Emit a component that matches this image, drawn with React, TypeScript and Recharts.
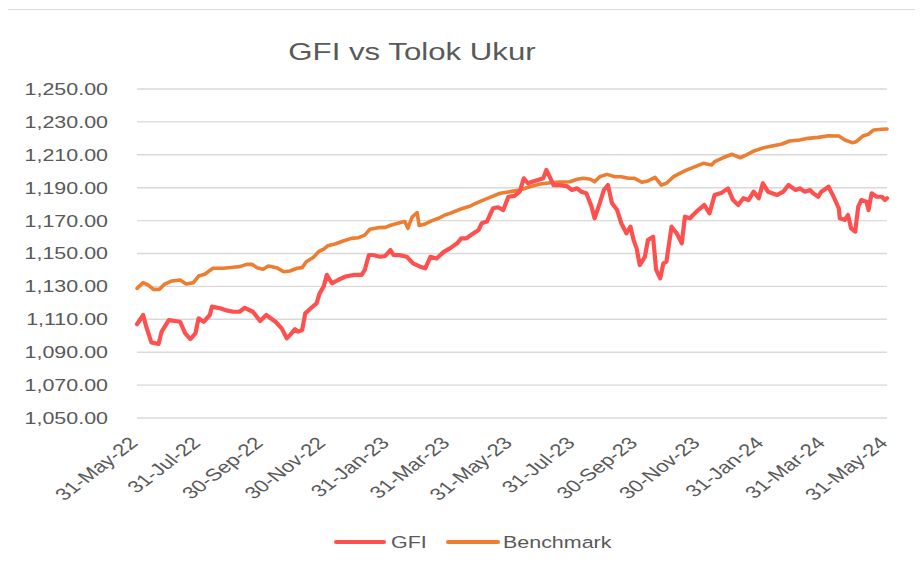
import React from "react";
import { LineChart, Line, XAxis, YAxis, CartesianGrid, Legend } from "recharts";

// Days since 31-May-22
const tickDays = [0, 61, 122, 183, 245, 304, 365, 426, 487, 548, 610, 670, 731];
const tickLabels = [
  "31-May-22", "31-Jul-22", "30-Sep-22", "30-Nov-22", "31-Jan-23", "31-Mar-23",
  "31-May-23", "31-Jul-23", "30-Sep-23", "30-Nov-23", "31-Jan-24", "31-Mar-24", "31-May-24",
];
const yTicks = [1050, 1070, 1090, 1110, 1130, 1150, 1170, 1190, 1210, 1230, 1250];

const gfiDays = [
  0, 6, 9, 14, 21, 24, 31, 42, 47, 52, 57, 60, 65, 71, 73, 81, 86, 94, 100, 105,
  113, 120, 126, 135, 141, 146, 149, 154, 157, 161, 164, 170, 175, 178, 182, 185, 190, 196, 203, 212,
  219, 222, 226, 230, 237, 242, 247, 250, 256, 263, 269, 276, 281, 286, 292, 299, 305, 312, 316, 321,
  328, 333, 336, 341, 344, 347, 352, 357, 362, 368, 373, 377, 381, 386, 393, 396, 399, 403, 406, 412,
  419, 424, 429, 433, 438, 443, 446, 451, 455, 459, 463, 468, 472, 477, 481, 484, 487, 490, 495, 498,
  503, 506, 510, 513, 516, 521, 526, 531, 534, 539, 542, 547, 553, 558, 563, 570, 576, 581, 586, 591,
  596, 601, 606, 610, 615, 624, 630, 635, 642, 646, 651, 656, 659, 664, 667, 674, 679, 684, 685, 690,
  693, 696, 700, 703, 706, 711, 713, 716, 721, 726, 729, 731,
];
const gfiValues = [
  1107, 1112.6, 1105.5, 1096, 1095, 1102.5, 1109.5, 1108.5, 1101.5, 1098, 1101.5, 1110.6, 1108.5, 1112.6, 1117.7, 1116.7, 1115.6, 1114.6, 1114.6, 1117,
  1114.6, 1109, 1112.6, 1108.5, 1104.5, 1098.4, 1100.4, 1104, 1102.5, 1103.5, 1113.6, 1117, 1119.7, 1125.8, 1130, 1137, 1131.9, 1133.9, 1136, 1137,
  1137, 1140, 1149.1, 1149.1, 1148, 1148.5, 1152.1, 1149.1, 1149, 1148, 1144, 1142, 1141, 1148, 1147, 1151, 1153.1, 1156.2, 1159.2, 1159.2,
  1162.3, 1164.3, 1168.4, 1169.4, 1173.4, 1177.5, 1178.1, 1176.4, 1184.5, 1185, 1187.6, 1195.7, 1192.7, 1193.7, 1195.1, 1195.7, 1200.8, 1195.7, 1191.6, 1191.6,
  1191, 1188.6, 1189.6, 1187.6, 1186.6, 1178.5, 1171.4, 1180.5, 1188.6, 1191.6, 1180.5, 1176.4, 1168.4, 1162.3, 1166.3, 1158.2, 1153.1, 1143, 1148, 1158.2,
  1160.2, 1140, 1134.9, 1144, 1145, 1166.3, 1162.3, 1156.2, 1172.4, 1171.4, 1173.4, 1176.4, 1179.5, 1174.4, 1185.6, 1187, 1189.6, 1182.5, 1179.5, 1183.6,
  1182.5, 1187.6, 1183.6, 1192.7, 1187.6, 1185.6, 1187.6, 1191.6, 1188.6, 1189.6, 1187.6, 1188.6, 1186.6, 1184.5, 1187.6, 1190.6, 1184.5, 1177.5, 1171.4, 1170.4,
  1173.4, 1165.3, 1163.3, 1178.5, 1182.5, 1181.5, 1176.4, 1186.6, 1184.5, 1184.5, 1182.5, 1183.6,
];

const benchDays = [
  0, 6, 11, 16, 22, 27, 34, 42, 48, 55, 60, 66, 74, 84, 94, 100, 107, 112, 117, 123,
  128, 136, 143, 149, 156, 161, 165, 172, 177, 182, 186, 193, 201, 209, 216, 222, 227, 235, 242, 248,
  256, 261, 264, 268, 273, 275, 281, 287, 294, 300, 305, 315, 325, 334, 344, 354, 364, 373, 383, 393,
  403, 412, 422, 429, 435, 442, 446, 451, 458, 466, 472, 479, 485, 492, 498, 505, 511, 516, 523, 529,
  536, 544, 552, 560, 563, 571, 580, 588, 594, 602, 612, 620, 628, 636, 646, 654, 664, 674, 684, 690,
  697, 701, 708, 713, 718, 726, 731,
];
const benchValues = [
  1128.8, 1132.3, 1130.8, 1128.2, 1128.2, 1131.4, 1133.3, 1133.9, 1131.4, 1132.3, 1136.3, 1137.4, 1141, 1141, 1141.6, 1142, 1143.4, 1143.4, 1141.4, 1140.4,
  1142.4, 1141.4, 1138.9, 1139.4, 1141, 1141.4, 1145, 1147.7, 1151.1, 1152.7, 1154.7, 1155.8, 1157.6, 1159.2, 1159.6, 1161.2, 1164.7, 1165.7, 1165.9, 1167.3,
  1168.7, 1169.4, 1165.3, 1172, 1174.9, 1167, 1168, 1169.8, 1171.4, 1173.4, 1174.4, 1176.9, 1178.9, 1181.5, 1184.1, 1186.6, 1187.6, 1188.6, 1190.6, 1192.2,
  1193, 1193.5, 1193.6, 1195.1, 1195.7, 1195.1, 1193.6, 1196.7, 1198.1, 1196.7, 1196.7, 1195.7, 1195.7, 1193.3, 1194.1, 1196.3, 1191.6, 1192.7, 1196.7, 1198.7,
  1200.8, 1202.8, 1204.8, 1203.8, 1205.8, 1208.2, 1210.3, 1208.2, 1209.9, 1212.5, 1214.5, 1215.5, 1216.4, 1218.4, 1219, 1220, 1220.6, 1221.6, 1221.4, 1219,
  1217.4, 1218, 1221.6, 1222.5, 1225.1, 1225.5, 1225.7,
];

const gfiData = gfiDays.map((d, i) => ({ day: d, value: gfiValues[i] }));
const benchData = benchDays.map((d, i) => ({ day: d, value: benchValues[i] }));

const TEXT = "#595959";
const FONT = "'Liberation Sans', Arial, sans-serif";
const SX = 1.3;
const GFI_COLOR = "#FF5050";
const BENCH_COLOR = "#ED7D31";

const fmt = (v: number) =>
  v.toLocaleString("en-US", { minimumFractionDigits: 2, maximumFractionDigits: 2 });

const YTick = (props: any) => {
  const { x, y, payload } = props;
  return (
    <g transform={`translate(${x},${y}) scale(${SX},1)`}>
      <text textAnchor="end" dy="0.36em" fontSize={16.5} fill={TEXT} fontFamily={FONT}>
        {fmt(payload.value)}
      </text>
    </g>
  );
};

const XTick = (props: any) => {
  const { x, y, payload } = props;
  const idx = tickDays.indexOf(payload.value);
  return (
    <g transform={`translate(${x + 2},${y}) scale(${SX},1) rotate(-45)`}>
      <text textAnchor="end" fontSize={17} fill={TEXT} fontFamily={FONT}>
        {idx >= 0 ? tickLabels[idx] : ""}
      </text>
    </g>
  );
};

const LegendContent = () => (
  <svg width={923} height={30}>
    <line x1={336} y1={14} x2={384} y2={14} stroke={GFI_COLOR} strokeWidth={4} strokeLinecap="round" />
    <g transform={`translate(391,20) scale(${SX},1)`}>
      <text fontSize={16.5} fill={TEXT} fontFamily={FONT}>GFI</text>
    </g>
    <line x1={448} y1={14} x2={498} y2={14} stroke={BENCH_COLOR} strokeWidth={4} strokeLinecap="round" />
    <g transform={`translate(503,20) scale(${SX},1)`}>
      <text fontSize={16.5} fill={TEXT} fontFamily={FONT}>Benchmark</text>
    </g>
  </svg>
);

export default function App() {
  return (
    <div
      style={{
        position: "relative",
        width: 923,
        height: 563,
        margin: -8,
        overflow: "hidden",
        background: "#fff",
      }}
    >
      <div
        style={{
          position: "absolute",
          left: 4,
          top: 9,
          width: 1000,
          height: 700,
          border: "1.5px solid #d9d9d9",
        }}
      />
      <svg
        width={923}
        height={80}
        style={{ position: "absolute", left: 0, top: 0 }}
      >
        <g transform={`translate(412,60) scale(${SX},1)`}>
          <text textAnchor="middle" fontSize={24} fill={TEXT} fontFamily={FONT}>
            GFI vs Tolok Ukur
          </text>
        </g>
      </svg>
      <div style={{ position: "absolute", left: 0, top: 0 }}>
        <LineChart
          width={923}
          height={563}
          margin={{ top: 89, right: 36, bottom: 55, left: 37 }}
        >
          <CartesianGrid horizontal vertical={false} stroke="#d9d9d9" strokeWidth={1.4} />
          <XAxis
            dataKey="day"
            type="number"
            domain={[0, 731]}
            ticks={tickDays}
            interval={0}
            axisLine={false}
            tickLine={false}
            tickSize={0}
            tickMargin={26}
            height={60}
            tick={<XTick />}
            allowDuplicatedCategory={false}
          />
          <YAxis
            type="number"
            domain={[1050, 1250]}
            ticks={yTicks}
            interval={0}
            axisLine={false}
            tickLine={false}
            tickSize={0}
            tickMargin={29}
            width={100}
            tick={<YTick />}
          />
          <Legend
            content={<LegendContent />}
            wrapperStyle={{ position: "absolute", left: 0, top: 528, width: 923, height: 30 }}
          />
          <Line
            data={benchData}
            dataKey="value"
            name="Benchmark"
            stroke={BENCH_COLOR}
            strokeWidth={3.6}
            dot={false}
            activeDot={false}
            type="linear"
            strokeLinejoin="round"
            strokeLinecap="round"
            isAnimationActive={false}
          />
          <Line
            data={gfiData}
            dataKey="value"
            name="GFI"
            stroke={GFI_COLOR}
            strokeWidth={4.2}
            dot={false}
            activeDot={false}
            type="linear"
            strokeLinejoin="round"
            strokeLinecap="round"
            isAnimationActive={false}
          />
        </LineChart>
      </div>
    </div>
  );
}
